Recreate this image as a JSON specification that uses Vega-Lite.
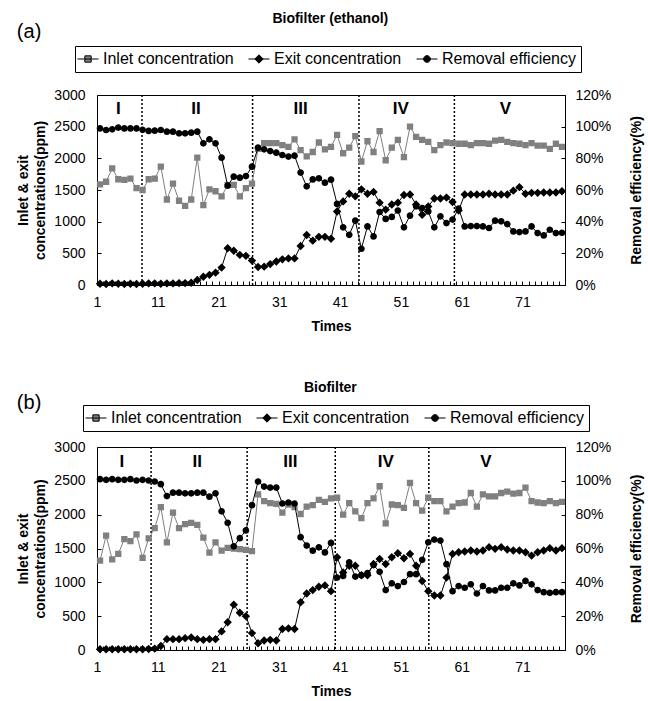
{
  "$schema": "https://vega.github.io/schema/vega-lite/v6.json",
  "background": "white",
  "padding": {"left": 16, "top": 12, "right": 2, "bottom": 5},
  "datasets": {
    "a": [
      {"t":1,"i":1590,"e":20,"r":98.9},{"t":2,"i":1630,"e":15,"r":97.9},{"t":3,"i":1840,"e":25,"r":98.3},{"t":4,"i":1670,"e":20,"r":99.4},{"t":5,"i":1660,"e":15,"r":98.9},
      {"t":6,"i":1680,"e":20,"r":98.9},{"t":7,"i":1530,"e":15,"r":98.9},{"t":8,"i":1500,"e":20,"r":98.0},{"t":9,"i":1670,"e":25,"r":97.3},{"t":10,"i":1680,"e":25,"r":97.5},
      {"t":11,"i":1870,"e":20,"r":97.9},{"t":12,"i":1350,"e":25,"r":96.8},{"t":13,"i":1600,"e":25,"r":96.8},{"t":14,"i":1330,"e":30,"r":95.8},{"t":15,"i":1250,"e":30,"r":95.8},
      {"t":16,"i":1350,"e":35,"r":96.2},{"t":17,"i":2010,"e":80,"r":96.8},{"t":18,"i":1260,"e":130,"r":89.5},{"t":19,"i":1510,"e":160,"r":92.0},{"t":20,"i":1480,"e":195,"r":89.5},
      {"t":21,"i":1400,"e":275,"r":80.4},{"t":22,"i":1580,"e":580,"r":62.7},{"t":23,"i":1580,"e":540,"r":68.4},{"t":24,"i":1400,"e":475,"r":67.8},{"t":25,"i":1530,"e":460,"r":68.8},
      {"t":26,"i":1600,"e":385,"r":74.7},{"t":27,"i":2150,"e":285,"r":86.7},{"t":28,"i":2240,"e":290,"r":85.7},{"t":29,"i":2240,"e":330,"r":84.6},{"t":30,"i":2240,"e":370,"r":83.6},
      {"t":31,"i":2210,"e":405,"r":82.1},{"t":32,"i":2180,"e":420,"r":81.1},{"t":33,"i":2300,"e":420,"r":81.7},{"t":34,"i":2130,"e":615,"r":71.0},{"t":35,"i":2030,"e":790,"r":62.3},
      {"t":36,"i":2100,"e":700,"r":66.7},{"t":37,"i":2250,"e":760,"r":67.4},{"t":38,"i":2140,"e":760,"r":64.6},{"t":39,"i":2180,"e":730,"r":66.5},{"t":40,"i":2370,"e":1160,"r":51.2},
      {"t":41,"i":2080,"e":1320,"r":36.4},{"t":42,"i":2170,"e":1440,"r":31.7},{"t":43,"i":2350,"e":1400,"r":40.6},{"t":44,"i":1950,"e":1510,"r":22.9},{"t":45,"i":2270,"e":1440,"r":37.0},
      {"t":46,"i":2100,"e":1470,"r":30.7},{"t":47,"i":2430,"e":1300,"r":46.1},{"t":48,"i":1970,"e":1190,"r":41.7},{"t":49,"i":2170,"e":1270,"r":43.0},{"t":50,"i":2290,"e":1300,"r":47.0},
      {"t":51,"i":2020,"e":1420,"r":36.4},{"t":52,"i":2500,"e":1430,"r":43.8},{"t":53,"i":2340,"e":1270,"r":49.7},{"t":54,"i":2290,"e":1110,"r":48.6},{"t":55,"i":2260,"e":1240,"r":46.5},
      {"t":56,"i":2130,"e":1365,"r":36.4},{"t":57,"i":2210,"e":1365,"r":43.4},{"t":58,"i":2250,"e":1380,"r":39.1},{"t":59,"i":2240,"e":1310,"r":41.3},{"t":60,"i":2230,"e":1175,"r":48.3},
      {"t":61,"i":2230,"e":1430,"r":37.0},{"t":62,"i":2210,"e":1430,"r":37.2},{"t":63,"i":2240,"e":1430,"r":37.2},{"t":64,"i":2240,"e":1430,"r":37.0},{"t":65,"i":2230,"e":1440,"r":36.0},
      {"t":66,"i":2280,"e":1430,"r":40.6},{"t":67,"i":2290,"e":1430,"r":40.2},{"t":68,"i":2260,"e":1430,"r":38.5},{"t":69,"i":2240,"e":1490,"r":33.8},{"t":70,"i":2230,"e":1545,"r":33.4},
      {"t":71,"i":2210,"e":1440,"r":33.8},{"t":72,"i":2240,"e":1455,"r":37.0},{"t":73,"i":2200,"e":1455,"r":32.8},{"t":74,"i":2200,"e":1460,"r":31.3},{"t":75,"i":2150,"e":1460,"r":34.9},
      {"t":76,"i":2230,"e":1460,"r":32.8},{"t":77,"i":2180,"e":1480,"r":33.0}
    ],
    "b": [
      {"t":1,"i":1320,"e":10,"r":101.0},{"t":2,"i":1690,"e":10,"r":100.6},{"t":3,"i":1340,"e":10,"r":101.0},{"t":4,"i":1420,"e":10,"r":100.6},{"t":5,"i":1640,"e":10,"r":100.6},
      {"t":6,"i":1610,"e":10,"r":101.0},{"t":7,"i":1710,"e":10,"r":100.2},{"t":8,"i":1360,"e":10,"r":100.6},{"t":9,"i":1650,"e":15,"r":100.2},{"t":10,"i":1800,"e":20,"r":99.6},
      {"t":11,"i":2110,"e":60,"r":98.0},{"t":12,"i":1590,"e":160,"r":91.0},{"t":13,"i":2030,"e":160,"r":93.0},{"t":14,"i":1800,"e":160,"r":93.0},{"t":15,"i":1860,"e":175,"r":92.6},
      {"t":16,"i":1880,"e":185,"r":92.6},{"t":17,"i":1850,"e":160,"r":93.0},{"t":18,"i":1660,"e":150,"r":93.0},{"t":19,"i":1440,"e":160,"r":90.6},{"t":20,"i":1590,"e":160,"r":92.6},
      {"t":21,"i":1470,"e":275,"r":82.0},{"t":22,"i":1510,"e":410,"r":75.2},{"t":23,"i":1500,"e":670,"r":61.3},{"t":24,"i":1490,"e":550,"r":66.1},{"t":25,"i":1480,"e":500,"r":70.7},
      {"t":26,"i":1460,"e":250,"r":85.6},{"t":27,"i":2300,"e":100,"r":99.6},{"t":28,"i":2200,"e":140,"r":96.6},{"t":29,"i":2170,"e":150,"r":96.0},{"t":30,"i":2160,"e":140,"r":96.0},
      {"t":31,"i":2030,"e":310,"r":86.6},{"t":32,"i":2150,"e":320,"r":87.2},{"t":33,"i":2110,"e":310,"r":86.6},{"t":34,"i":2010,"e":705,"r":66.7},{"t":35,"i":2120,"e":835,"r":61.7},
      {"t":36,"i":2140,"e":885,"r":58.7},{"t":37,"i":2220,"e":935,"r":60.7},{"t":38,"i":2190,"e":955,"r":57.7},{"t":39,"i":2240,"e":870,"r":63.3},{"t":40,"i":2250,"e":1370,"r":42.8},
      {"t":41,"i":2000,"e":1145,"r":43.8},{"t":42,"i":2170,"e":1245,"r":51.8},{"t":43,"i":2050,"e":1245,"r":43.4},{"t":44,"i":1950,"e":1105,"r":44.2},{"t":45,"i":2170,"e":1105,"r":45.4},
      {"t":46,"i":2240,"e":1270,"r":50.2},{"t":47,"i":2420,"e":1345,"r":46.2},{"t":48,"i":1870,"e":1270,"r":35.4},{"t":49,"i":2150,"e":1370,"r":39.4},{"t":50,"i":2140,"e":1430,"r":37.8},
      {"t":51,"i":2100,"e":1355,"r":40.2},{"t":52,"i":2470,"e":1420,"r":44.8},{"t":53,"i":2170,"e":1245,"r":44.8},{"t":54,"i":2060,"e":1020,"r":53.3},{"t":55,"i":2250,"e":870,"r":63.7},
      {"t":56,"i":2200,"e":805,"r":65.3},{"t":57,"i":2200,"e":805,"r":64.7},{"t":58,"i":2050,"e":1070,"r":50.7},{"t":59,"i":2120,"e":1420,"r":34.8},{"t":60,"i":2170,"e":1445,"r":37.8},
      {"t":61,"i":2180,"e":1455,"r":36.8},{"t":62,"i":2320,"e":1470,"r":38.8},{"t":63,"i":2120,"e":1455,"r":33.4},{"t":64,"i":2300,"e":1470,"r":37.8},{"t":65,"i":2270,"e":1520,"r":35.2},
      {"t":66,"i":2270,"e":1495,"r":35.2},{"t":67,"i":2320,"e":1520,"r":36.8},{"t":68,"i":2340,"e":1485,"r":36.8},{"t":69,"i":2310,"e":1470,"r":39.4},{"t":70,"i":2320,"e":1470,"r":38.2},
      {"t":71,"i":2400,"e":1445,"r":40.8},{"t":72,"i":2200,"e":1395,"r":38.8},{"t":73,"i":2180,"e":1445,"r":35.4},{"t":74,"i":2170,"e":1470,"r":34.2},{"t":75,"i":2200,"e":1505,"r":33.8},
      {"t":76,"i":2170,"e":1470,"r":34.2},{"t":77,"i":2190,"e":1505,"r":34.2}
    ],
    "ra": [{"t":7.9},{"t":26.1},{"t":43.6},{"t":59.3}],
    "rb": [{"t":9.4},{"t":25.2},{"t":39.7},{"t":55.1}],
    "na": [{"t":4,"v":2780,"n":"I"},{"t":16.8,"v":2780,"n":"II"},{"t":34,"v":2780,"n":"III"},{"t":50.5,"v":2780,"n":"IV"},{"t":67.7,"v":2780,"n":"V"}],
    "nb": [{"t":4.6,"v":2780,"n":"I"},{"t":17,"v":2780,"n":"II"},{"t":32.3,"v":2780,"n":"III"},{"t":48,"v":2780,"n":"IV"},{"t":64.5,"v":2780,"n":"V"}]
  },
  "vconcat": [
    {
      "title": {"text": "Biofilter (ethanol)", "anchor": "middle", "offset": -5},
      "resolve": {"scale": {"color": "independent", "shape": "independent"}},
      "vconcat": [
        {
          "title": {"text": "(a)", "anchor": "start", "frame": "bounds", "fontSize": 20, "fontWeight": "normal", "offset": 4},
          "width": 468,
          "height": 190,
          "encoding": {
            "x": {"field": "t", "type": "quantitative", "scale": {"domain": [0.5, 77.5], "nice": false, "zero": false},
              "axis": {"values": [0.5,1.5,2.5,3.5,4.5,5.5,6.5,7.5,8.5,9.5,10.5,11.5,12.5,13.5,14.5,15.5,16.5,17.5,18.5,19.5,20.5,21.5,22.5,23.5,24.5,25.5,26.5,27.5,28.5,29.5,30.5,31.5,32.5,33.5,34.5,35.5,36.5,37.5,38.5,39.5,40.5,41.5,42.5,43.5,44.5,45.5,46.5,47.5,48.5,49.5,50.5,51.5,52.5,53.5,54.5,55.5,56.5,57.5,58.5,59.5,60.5,61.5,62.5,63.5,64.5,65.5,66.5,67.5,68.5,69.5,70.5,71.5,72.5,73.5,74.5,75.5,76.5,77.5],
                "labelExpr": "((datum.value - 0.5) % 10 == 0 && datum.value < 77) ? format(datum.value + 0.5, 'd') : ''",
                "labelDx": 3, "tickSize": -4, "labelPadding": 14, "labelOverlap": false, "labelFlush": false,
                "title": "Times", "titlePadding": 10}}
          },
          "layer": [
            {
              "layer": [
                {"data": {"name": "ra"}, "mark": {"type": "rule", "strokeDash": [2, 2], "strokeWidth": 1.5, "color": "black"}, "encoding": {}},
                {"data": {"name": "na"}, "mark": {"type": "text", "fontSize": 17, "fontWeight": "bold", "baseline": "middle", "color": "black"},
                  "encoding": {"y": {"field": "v", "type": "quantitative", "scale": {"domain": [0, 3000], "nice": false},
                      "axis": {"orient": "left", "values": [0,500,1000,1500,2000,2500,3000], "format": "d", "tickSize": -4, "labelPadding": 16, "title": ["Inlet & exit", "concentrations(ppm)"], "titlePadding": 6, "titleLineHeight": 17}},
                    "text": {"field": "n"}}},
                {"data": {"name": "a"}, "mark": {"type": "line", "strokeWidth": 1, "color": "#808080"},
                  "encoding": {"y": {"field": "i", "type": "quantitative", "scale": {"domain": [0, 3000], "nice": false},
                      "axis": {"orient": "left", "values": [0,500,1000,1500,2000,2500,3000], "format": "d", "tickSize": -4, "labelPadding": 16, "title": ["Inlet & exit", "concentrations(ppm)"], "titlePadding": 6, "titleLineHeight": 17}}}},
                {"data": {"name": "a"}, "mark": {"type": "line", "strokeWidth": 1, "color": "#000000"},
                  "encoding": {"y": {"field": "e", "type": "quantitative", "scale": {"domain": [0, 3000], "nice": false},
                      "axis": {"orient": "left", "values": [0,500,1000,1500,2000,2500,3000], "format": "d", "tickSize": -4, "labelPadding": 16, "title": ["Inlet & exit", "concentrations(ppm)"], "titlePadding": 6, "titleLineHeight": 17}}}},
                {"data": {"name": "a"}, "transform": [{"fold": ["i", "e"], "as": ["s", "v"]}],
                  "mark": {"type": "point", "filled": true, "opacity": 1, "size": 196},
                  "encoding": {
                    "y": {"field": "v", "type": "quantitative", "scale": {"domain": [0, 3000], "nice": false},
                      "axis": {"orient": "left", "values": [0,500,1000,1500,2000,2500,3000], "format": "d", "tickSize": -4, "labelPadding": 16, "title": ["Inlet & exit", "concentrations(ppm)"], "titlePadding": 6, "titleLineHeight": 17}},
                    "color": {"field": "s", "scale": {"domain": ["i", "e", "r"], "range": ["#808080", "#000000", "#000000"]},
                      "legend": {"orient": "none", "legendX": -22, "legendY": -49, "direction": "horizontal", "title": null,
                        "strokeColor": "black", "padding": 5, "symbolSize": 196, "symbolStrokeColor": "#000000", "symbolStrokeWidth": 1, "labelFontSize": 16, "labelOffset": 7, "columnPadding": 12,
                        "labelExpr": "datum.label == 'i' ? 'Inlet concentration' : datum.label == 'e' ? 'Exit concentration' : 'Removal efficiency'",
                        "encode": {"symbols": {"stroke": {"condition": {"test": "datum.value == 'i'", "value": "#808080"}, "value": "#000000"}, "strokeWidth": {"value": 1}, "opacity": {"value": 1}}}}},
                    "shape": {"field": "s", "scale": {"domain": ["i", "e", "r"], "range": [
                      "M-1.5,0H1.5M-0.45,-0.45H0.45V0.45H-0.45Z",
                      "M-1.5,0H1.5M0,-0.6L0.6,0L0,0.6L-0.6,0Z",
                      "M-1.5,0H1.5M-0.48,0A0.48,0.48,0,1,1,0.48,0A0.48,0.48,0,1,1,-0.48,0Z"]}}
                  }}
              ]
            },
            {
              "layer": [
                {"data": {"name": "a"}, "mark": {"type": "line", "strokeWidth": 1, "color": "#000000"},
                  "encoding": {
                    "y": {"field": "r", "type": "quantitative", "scale": {"domain": [0, 120], "nice": false},
                      "axis": {"orient": "right", "values": [0,20,40,60,80,100,120], "labelExpr": "datum.value + '%'", "tickSize": -4, "labelPadding": 14, "title": "Removal efficiency(%)", "titleAngle": 270, "titleBaseline": "top", "titlePadding": 19}}
                  }},
                {"data": {"name": "a"}, "transform": [{"fold": ["r"], "as": ["s", "w"]}],
                  "mark": {"type": "point", "filled": true, "opacity": 1, "size": 196},
                  "encoding": {
                    "y": {"field": "w", "type": "quantitative", "scale": {"domain": [0, 120], "nice": false},
                      "axis": {"orient": "right", "values": [0,20,40,60,80,100,120], "labelExpr": "datum.value + '%'", "tickSize": -4, "labelPadding": 14, "title": "Removal efficiency(%)", "titleAngle": 270, "titleBaseline": "top", "titlePadding": 19}},
                    "color": {"field": "s", "scale": {"domain": ["i", "e", "r"], "range": ["#808080", "#000000", "#000000"]},
                      "legend": {"orient": "none", "legendX": -22, "legendY": -49, "direction": "horizontal", "title": null,
                        "strokeColor": "black", "padding": 5, "symbolSize": 196, "symbolStrokeColor": "#000000", "symbolStrokeWidth": 1, "labelFontSize": 16, "labelOffset": 7, "columnPadding": 12,
                        "labelExpr": "datum.label == 'i' ? 'Inlet concentration' : datum.label == 'e' ? 'Exit concentration' : 'Removal efficiency'",
                        "encode": {"symbols": {"stroke": {"condition": {"test": "datum.value == 'i'", "value": "#808080"}, "value": "#000000"}, "strokeWidth": {"value": 1}, "opacity": {"value": 1}}}}},
                    "shape": {"field": "s", "scale": {"domain": ["i", "e", "r"], "range": [
                      "M-1.5,0H1.5M-0.45,-0.45H0.45V0.45H-0.45Z",
                      "M-1.5,0H1.5M0,-0.6L0.6,0L0,0.6L-0.6,0Z",
                      "M-1.5,0H1.5M-0.48,0A0.48,0.48,0,1,1,0.48,0A0.48,0.48,0,1,1,-0.48,0Z"]}}
                  }}
              ]
            }
          ],
          "resolve": {"scale": {"y": "independent"}}
        }
      ]
    },
    {
      "title": {"text": "Biofilter", "anchor": "middle", "offset": -3},
      "resolve": {"scale": {"color": "independent", "shape": "independent"}},
      "vconcat": [
        {
          "title": {"text": "(b)", "anchor": "start", "frame": "bounds", "fontSize": 20, "fontWeight": "normal", "offset": -8},
          "width": 468,
          "height": 203,
          "encoding": {
            "x": {"field": "t", "type": "quantitative", "scale": {"domain": [0.5, 77.5], "nice": false, "zero": false},
              "axis": {"values": [0.5,1.5,2.5,3.5,4.5,5.5,6.5,7.5,8.5,9.5,10.5,11.5,12.5,13.5,14.5,15.5,16.5,17.5,18.5,19.5,20.5,21.5,22.5,23.5,24.5,25.5,26.5,27.5,28.5,29.5,30.5,31.5,32.5,33.5,34.5,35.5,36.5,37.5,38.5,39.5,40.5,41.5,42.5,43.5,44.5,45.5,46.5,47.5,48.5,49.5,50.5,51.5,52.5,53.5,54.5,55.5,56.5,57.5,58.5,59.5,60.5,61.5,62.5,63.5,64.5,65.5,66.5,67.5,68.5,69.5,70.5,71.5,72.5,73.5,74.5,75.5,76.5,77.5],
                "labelExpr": "((datum.value - 0.5) % 10 == 0 && datum.value < 77) ? format(datum.value + 0.5, 'd') : ''",
                "labelDx": 3, "tickSize": -4, "labelPadding": 14, "labelOverlap": false, "labelFlush": false,
                "title": "Times", "titlePadding": 10}}
          },
          "layer": [
            {
              "layer": [
                {"data": {"name": "rb"}, "mark": {"type": "rule", "strokeDash": [2, 2], "strokeWidth": 1.5, "color": "black"}, "encoding": {}},
                {"data": {"name": "nb"}, "mark": {"type": "text", "fontSize": 17, "fontWeight": "bold", "baseline": "middle", "color": "black"},
                  "encoding": {"y": {"field": "v", "type": "quantitative", "scale": {"domain": [0, 3000], "nice": false},
                      "axis": {"orient": "left", "values": [0,500,1000,1500,2000,2500,3000], "format": "d", "tickSize": -4, "labelPadding": 16, "title": ["Inlet & exit", "concentrations(ppm)"], "titlePadding": 6, "titleLineHeight": 17}},
                    "text": {"field": "n"}}},
                {"data": {"name": "b"}, "mark": {"type": "line", "strokeWidth": 1, "color": "#808080"},
                  "encoding": {"y": {"field": "i", "type": "quantitative", "scale": {"domain": [0, 3000], "nice": false},
                      "axis": {"orient": "left", "values": [0,500,1000,1500,2000,2500,3000], "format": "d", "tickSize": -4, "labelPadding": 16, "title": ["Inlet & exit", "concentrations(ppm)"], "titlePadding": 6, "titleLineHeight": 17}}}},
                {"data": {"name": "b"}, "mark": {"type": "line", "strokeWidth": 1, "color": "#000000"},
                  "encoding": {"y": {"field": "e", "type": "quantitative", "scale": {"domain": [0, 3000], "nice": false},
                      "axis": {"orient": "left", "values": [0,500,1000,1500,2000,2500,3000], "format": "d", "tickSize": -4, "labelPadding": 16, "title": ["Inlet & exit", "concentrations(ppm)"], "titlePadding": 6, "titleLineHeight": 17}}}},
                {"data": {"name": "b"}, "transform": [{"fold": ["i", "e"], "as": ["s", "v"]}],
                  "mark": {"type": "point", "filled": true, "opacity": 1, "size": 196},
                  "encoding": {
                    "y": {"field": "v", "type": "quantitative", "scale": {"domain": [0, 3000], "nice": false},
                      "axis": {"orient": "left", "values": [0,500,1000,1500,2000,2500,3000], "format": "d", "tickSize": -4, "labelPadding": 16, "title": ["Inlet & exit", "concentrations(ppm)"], "titlePadding": 6, "titleLineHeight": 17}},
                    "color": {"field": "s", "scale": {"domain": ["i", "e", "r"], "range": ["#808080", "#000000", "#000000"]},
                      "legend": {"orient": "none", "legendX": -14, "legendY": -42, "direction": "horizontal", "title": null,
                        "strokeColor": "black", "padding": 5, "symbolSize": 196, "symbolStrokeColor": "#000000", "symbolStrokeWidth": 1, "labelFontSize": 16, "labelOffset": 7, "columnPadding": 12,
                        "labelExpr": "datum.label == 'i' ? 'Inlet concentration' : datum.label == 'e' ? 'Exit concentration' : 'Removal efficiency'",
                        "encode": {"symbols": {"stroke": {"condition": {"test": "datum.value == 'i'", "value": "#808080"}, "value": "#000000"}, "strokeWidth": {"value": 1}, "opacity": {"value": 1}}}}},
                    "shape": {"field": "s", "scale": {"domain": ["i", "e", "r"], "range": [
                      "M-1.5,0H1.5M-0.45,-0.45H0.45V0.45H-0.45Z",
                      "M-1.5,0H1.5M0,-0.6L0.6,0L0,0.6L-0.6,0Z",
                      "M-1.5,0H1.5M-0.48,0A0.48,0.48,0,1,1,0.48,0A0.48,0.48,0,1,1,-0.48,0Z"]}}
                  }}
              ]
            },
            {
              "layer": [
                {"data": {"name": "b"}, "mark": {"type": "line", "strokeWidth": 1, "color": "#000000"},
                  "encoding": {
                    "y": {"field": "r", "type": "quantitative", "scale": {"domain": [0, 120], "nice": false},
                      "axis": {"orient": "right", "values": [0,20,40,60,80,100,120], "labelExpr": "datum.value + '%'", "tickSize": -4, "labelPadding": 14, "title": "Removal efficiency(%)", "titleAngle": 270, "titleBaseline": "top", "titlePadding": 19}}
                  }},
                {"data": {"name": "b"}, "transform": [{"fold": ["r"], "as": ["s", "w"]}],
                  "mark": {"type": "point", "filled": true, "opacity": 1, "size": 196},
                  "encoding": {
                    "y": {"field": "w", "type": "quantitative", "scale": {"domain": [0, 120], "nice": false},
                      "axis": {"orient": "right", "values": [0,20,40,60,80,100,120], "labelExpr": "datum.value + '%'", "tickSize": -4, "labelPadding": 14, "title": "Removal efficiency(%)", "titleAngle": 270, "titleBaseline": "top", "titlePadding": 19}},
                    "color": {"field": "s", "scale": {"domain": ["i", "e", "r"], "range": ["#808080", "#000000", "#000000"]},
                      "legend": {"orient": "none", "legendX": -14, "legendY": -42, "direction": "horizontal", "title": null,
                        "strokeColor": "black", "padding": 5, "symbolSize": 196, "symbolStrokeColor": "#000000", "symbolStrokeWidth": 1, "labelFontSize": 16, "labelOffset": 7, "columnPadding": 12,
                        "labelExpr": "datum.label == 'i' ? 'Inlet concentration' : datum.label == 'e' ? 'Exit concentration' : 'Removal efficiency'",
                        "encode": {"symbols": {"stroke": {"condition": {"test": "datum.value == 'i'", "value": "#808080"}, "value": "#000000"}, "strokeWidth": {"value": 1}, "opacity": {"value": 1}}}}},
                    "shape": {"field": "s", "scale": {"domain": ["i", "e", "r"], "range": [
                      "M-1.5,0H1.5M-0.45,-0.45H0.45V0.45H-0.45Z",
                      "M-1.5,0H1.5M0,-0.6L0.6,0L0,0.6L-0.6,0Z",
                      "M-1.5,0H1.5M-0.48,0A0.48,0.48,0,1,1,0.48,0A0.48,0.48,0,1,1,-0.48,0Z"]}}
                  }}
              ]
            }
          ],
          "resolve": {"scale": {"y": "independent"}}
        }
      ]
    }
  ],
  "spacing": 47,
  "resolve": {"scale": {"color": "independent", "shape": "independent"}},
  "config": {
    "font": "Liberation Sans, Arial, sans-serif",
    "view": {"stroke": "#000000", "strokeWidth": 1},
    "axis": {"grid": false, "domain": false, "tickColor": "#000000", "labelColor": "#000000", "titleColor": "#000000", "labelFontSize": 14, "titleFontSize": 14, "titleFontWeight": "bold", "labelFont": "Liberation Sans, Arial, sans-serif", "titleFont": "Liberation Sans, Arial, sans-serif"},
    "title": {"fontSize": 14, "fontWeight": "bold", "color": "#000000", "font": "Liberation Sans, Arial, sans-serif"},
    "legend": {"labelColor": "#000000", "labelFont": "Liberation Sans, Arial, sans-serif"}
  }
}
